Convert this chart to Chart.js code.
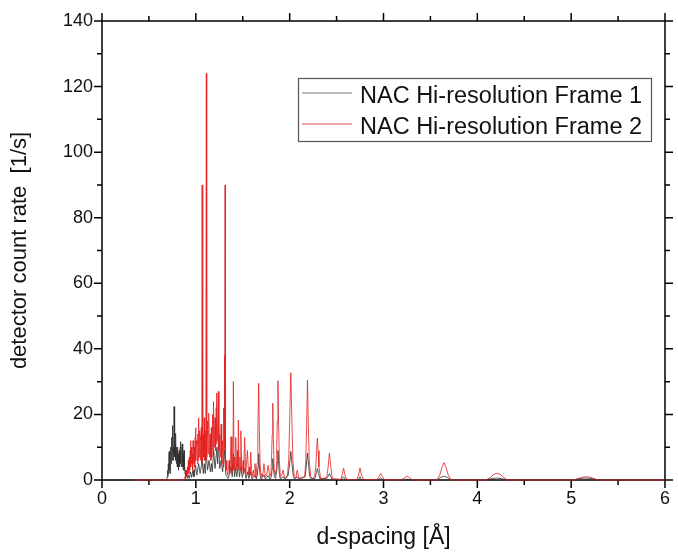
<!DOCTYPE html>
<html>
<head>
<meta charset="utf-8">
<script src="https://cdn.jsdelivr.net/npm/chart.js@4.4.0/dist/chart.umd.min.js"></script>
<style>
html,body{margin:0;padding:0;background:#fff;}
canvas{display:block;}
</style>
</head>
<body>
<canvas id="c" width="678" height="553"></canvas>
<script>
// ---- data ----
const seriesLabels = ["NAC Hi-resolution Frame 1", "NAC Hi-resolution Frame 2"];

// Frame 1 : [d-spacing (Å), count rate (1/s)]
const frame1 = [
 [0,0],[0.69,0],[0.695,1],[0.70,3],[0.703,1],[0.707,5],[0.71,2],[0.713,7],[0.716,8.7],[0.719,3],
 [0.722,7],[0.725,2],[0.728,9],[0.731,4],[0.733,10],[0.736,5],[0.739,11],[0.742,5],[0.745,13],
 [0.748,6],[0.75,16.6],[0.753,7],[0.756,12],[0.759,6],[0.762,10],[0.765,8],[0.768,22.4],[0.771,8],
 [0.774,13],[0.777,7],[0.78,11],[0.783,6],[0.786,14.2],[0.789,6],[0.792,10],[0.795,5],[0.798,9],
 [0.801,4],[0.804,10],[0.807,4],[0.81,8],[0.813,3],[0.816,7],[0.819,4],[0.822,9],[0.825,4],
 [0.828,8],[0.831,5],[0.834,10],[0.837,5],[0.84,11.7],[0.843,5],[0.846,8],[0.849,4],[0.852,9],
 [0.856,11],[0.859,4],[0.862,7],[0.865,3],[0.868,8],[0.871,4],[0.874,9],[0.877,3],[0.88,5],
 [0.885,2],[0.89,3],[0.895,1],[0.90,2],[0.91,0.5],[0.92,1.5],[0.93,0.5],
 [0.944,2.5],[0.955,0.8],[0.97,3],[0.98,1],[0.997,4.5],[1.01,1.5],[1.03,5],[1.045,2],[1.058,4],
 [1.067,6],[1.08,2],[1.09,5],[1.1,2],[1.112,8],[1.125,3],[1.14,6],[1.155,2.5],[1.165,5],
 [1.175,2.5],[1.19,9],[1.205,3.5],[1.225,10],[1.233,5],[1.242,12],[1.255,3.5],[1.27,6],
 [1.285,2.5],[1.298,6],[1.306,9],[1.32,1.5],[1.345,0.5],[1.375,4],[1.388,1],[1.40,8],[1.412,1],
 [1.425,3.5],[1.437,1],[1.453,5],[1.465,1],[1.48,4],[1.495,0.8],[1.52,3.5],[1.535,0.5],[1.55,2.5],
 [1.565,0.5],[1.585,2.5],[1.6,0.3],[1.63,1.5],[1.645,0.3],[1.655,1.5],[1.663,4],[1.67,8],
 [1.677,4],[1.685,1.5],[1.695,0.3],[1.726,1.5],[1.742,0.3],[1.77,1.3],[1.79,0.3],[1.805,1],
 [1.813,3.5],[1.82,6.5],[1.827,3.5],[1.837,1],[1.85,0.5],[1.862,3],[1.868,5.5],[1.875,9],
 [1.882,5.5],[1.89,2],[1.9,0.3],[1.93,1],[1.95,0.2],[1.985,1.5],[2.0,5],[2.012,8.7],[2.024,5],
 [2.038,1.5],[2.05,0.2],[2.08,1],[2.1,0.2],[2.165,1],[2.178,4.5],[2.19,8.2],[2.202,4.5],[2.215,1],
 [2.23,0.3],[2.27,0.5],[2.283,2],[2.295,3.5],[2.307,2],[2.325,0.3],[2.4,0.7],[2.412,1.2],
 [2.424,2],[2.436,1.2],[2.45,0.3],[2.55,0.1],[2.575,1],[2.6,0],[2.73,0],[2.75,1],[2.77,0],
 [2.94,0],[2.97,0.6],[3.0,0],[3.22,0],[3.25,0.3],[3.28,0],
 [3.57,0],[3.61,0.8],[3.645,1.2],[3.68,0.8],[3.72,0],[4.1,0],[4.15,0.4],[4.207,0.6],[4.26,0.4],
 [4.32,0],[5.03,0],[5.1,0.5],[5.155,0.6],[5.21,0.5],[5.28,0],[6,0]
];

// Frame 2 : [d-spacing (Å), count rate (1/s)]
const frame2 = [
 [0.33,0],[0.87,0],[0.885,1],[0.89,0.5],[0.90,3],[0.905,1],[0.91,4],[0.915,2],[0.92,6],[0.925,2],
 [0.93,7],[0.935,3],[0.94,9],[0.944,12],[0.948,4],[0.953,10],[0.958,5],[0.962,8],[0.966,3],
 [0.97,12],[0.974,5],[0.979,9],[0.983,10],[0.988,4],[0.993,13],[0.997,15.9],[1.001,6],[1.006,12],
 [1.012,11],[1.016,5],[1.022,14],[1.026,6],[1.03,19],[1.034,7],[1.04,15],[1.045,13],[1.05,6],
 [1.054,12],[1.058,16],[1.063,5],[1.067,90],[1.071,6],[1.076,12],[1.08,14],[1.084,7],[1.09,19],
 [1.094,6],[1.1,12],[1.104,15],[1.108,6],[1.112,124],[1.116,7],[1.12,14],[1.125,18],[1.13,8],
 [1.135,17],[1.14,20.4],[1.146,7],[1.15,12],[1.155,14],[1.16,6],[1.165,16],[1.17,7],[1.174,15],
 [1.178,20],[1.183,9],[1.186,16],[1.19,23.9],[1.196,10],[1.2,15],[1.205,19],[1.21,9],[1.217,22],
 [1.22,11],[1.225,26.5],[1.232,12],[1.236,20],[1.24,27],[1.246,9],[1.25,12],[1.255,14],[1.26,7],
 [1.265,12],[1.27,17],[1.276,5],[1.28,9],[1.285,12],[1.29,4],[1.294,14],[1.298,22],[1.302,9],
 [1.306,38],[1.309,10],[1.312,90],[1.316,4],[1.322,6],[1.33,3],[1.34,1.5],[1.355,6],[1.362,2],
 [1.368,6],[1.375,13.2],[1.385,3],[1.392,5],[1.396,3],[1.40,30],[1.408,3],[1.415,7],[1.42,3],
 [1.425,13],[1.435,3],[1.445,9],[1.449,4],[1.453,18.3],[1.462,3],[1.47,7],[1.474,3],[1.48,15],
 [1.49,2],[1.505,6],[1.51,2],[1.52,13],[1.532,2],[1.55,9],[1.562,1.5],[1.572,4],[1.576,1.5],
 [1.585,8.5],[1.598,1],[1.615,3],[1.62,1],[1.63,5],[1.642,1],[1.652,5],[1.661,15],[1.67,29.5],
 [1.677,15],[1.685,5],[1.695,1],[1.705,2],[1.712,1],[1.726,5],[1.74,1],[1.755,1.5],[1.77,4.5],
 [1.788,1],[1.80,2],[1.808,8],[1.814,14],[1.82,23.4],[1.826,13],[1.834,4],[1.845,1.5],[1.855,3],
 [1.862,10],[1.868,18],[1.875,30.3],[1.882,17],[1.89,6],[1.90,1],[1.915,1.5],[1.93,3],[1.945,0.8],
 [1.975,1],[1.99,6],[2.0,18],[2.012,32.7],[2.024,18],[2.034,6],[2.05,1],[2.065,0.5],[2.08,3],
 [2.1,0.5],[2.16,1],[2.172,6],[2.181,17],[2.19,30.5],[2.199,17],[2.208,6],[2.225,1],[2.245,0.5],
 [2.265,1],[2.278,4],[2.287,9],[2.295,12.8],[2.303,9],[2.312,4],[2.33,0.5],[2.395,0.5],[2.41,4],
 [2.424,8.2],[2.438,4],[2.455,0.3],[2.545,0.2],[2.56,1.5],[2.575,3.6],[2.59,1.5],
 [2.61,0.1],[2.715,0.1],[2.735,1.5],[2.75,3.7],[2.765,1.5],[2.79,0.1],[2.93,0.1],[2.95,1],[2.97,2],
 [2.99,1],[3.01,0.1],[3.19,0],[3.22,0.6],[3.25,1.2],[3.28,0.6],[3.31,0],[3.57,0],[3.60,1.5],
 [3.625,4],[3.645,5.3],[3.665,4],[3.69,1.5],[3.72,0],[4.09,0],[4.14,0.8],[4.18,1.8],[4.207,2],
 [4.24,1.8],[4.28,0.8],[4.32,0],[5.02,0],[5.08,0.5],[5.13,0.9],[5.155,1],[5.19,0.9],[5.24,0.5],
 [5.29,0],[6.0,0]
];

const xTickValues = [0,1,2,3,4,5,6];
const xMinorValues = [0.5,1.5,2.5,3.5,4.5,5.5];
const yTickValues = [0,20,40,60,80,100,120,140];
const yMinorValues = [10,30,50,70,90,110,130];

const xTitle = "d-spacing [Å]";
const yTitle = "detector count rate  [1/s]";

// ---- styling ----
const colors = ["rgb(45,45,45)", "rgb(228,32,32)"];
const legendLineColors = ["rgb(120,120,120)", "rgb(215,80,80)"];
const FONT = "'Liberation Sans', Arial, sans-serif";

const framePlugin = {
  id: 'frame',
  beforeDatasetsDraw(chart) {
    const {ctx, chartArea: a, scales: {x, y}} = chart;
    ctx.save();
    ctx.strokeStyle = '#000';
    ctx.lineWidth = 1.5;
    ctx.strokeRect(a.left, a.top, a.right - a.left, a.bottom - a.top);
    ctx.beginPath();
    const tick = (vals, len) => {
      vals.forEach(v => {
        const px = x.getPixelForValue(v);
        ctx.moveTo(px, a.bottom); ctx.lineTo(px, a.bottom + len);
        ctx.moveTo(px, a.top); ctx.lineTo(px, a.top - len);
      });
    };
    const ytick = (vals, len) => {
      vals.forEach(v => {
        const py = y.getPixelForValue(v);
        ctx.moveTo(a.left, py); ctx.lineTo(a.left - len, py);
        ctx.moveTo(a.right, py); ctx.lineTo(a.right + len, py);
      });
    };
    tick(xTickValues, 8); tick(xMinorValues, 5);
    ytick(yTickValues, 8); ytick(yMinorValues, 5);
    ctx.stroke();
    ctx.restore();
  },
  afterDraw(chart) {
    const {ctx} = chart;
    ctx.save();
    ctx.strokeStyle = '#555';
    ctx.lineWidth = 1.2;
    ctx.strokeRect(298.5, 78.5, 353, 63);
    ctx.font = "23.5px " + FONT;
    ctx.textBaseline = 'alphabetic';
    ctx.textAlign = 'left';
    const rows = [93, 124];
    chart.data.datasets.forEach((ds, i) => {
      ctx.strokeStyle = legendLineColors[i];
      ctx.lineWidth = 1;
      ctx.beginPath();
      ctx.moveTo(302, rows[i]); ctx.lineTo(352, rows[i]);
      ctx.stroke();
      ctx.fillStyle = '#111';
      ctx.fillText(ds.label, 360, rows[i] + 9.5);
    });
    ctx.restore();
  }
};

const toPts = arr => arr.map(p => ({x: p[0], y: p[1]}));

new Chart(document.getElementById('c'), {
  type: 'scatter',
  data: {
    datasets: [
      {label: seriesLabels[0], data: toPts(frame1), showLine: true, borderColor: colors[0],
       borderWidth: 0.8, pointRadius: 0, order: 2, clip: false},
      {label: seriesLabels[1], data: toPts(frame2), showLine: true, borderColor: colors[1],
       borderWidth: 0.8, pointRadius: 0, order: 1, clip: false}
    ]
  },
  options: {
    responsive: false,
    animation: false,
    devicePixelRatio: 1,
    layout: {padding: {top: 21, right: 6, left: 0, bottom: 0}},
    plugins: {legend: {display: false}, tooltip: {enabled: false}},
    scales: {
      x: {
        type: 'linear', min: 0, max: 6,
        afterBuildTicks: s => { s.ticks = xTickValues.map(v => ({value: v})); },
        afterFit: s => { s.height = 73; },
        grid: {display: false, drawTicks: false},
        border: {display: false},
        ticks: {color: '#111', padding: 8, font: {family: FONT, size: 18}},
        title: {display: true, text: xTitle, color: '#111', padding: {top: 0, bottom: 2},
                font: {family: FONT, size: 23, lineHeight: 1.2}}
      },
      y: {
        type: 'linear', min: 0, max: 140,
        afterBuildTicks: s => { s.ticks = yTickValues.map(v => ({value: v})); },
        afterFit: s => { s.width = 102; },
        grid: {display: false, drawTicks: false},
        border: {display: false},
        ticks: {color: '#111', padding: 9, font: {family: FONT, size: 18}},
        title: {display: true, text: yTitle, color: '#111', padding: {top: 7, bottom: 0},
                font: {family: FONT, size: 22, lineHeight: 1.2}}
      }
    }
  },
  plugins: [framePlugin]
});
</script>
</body>
</html>
